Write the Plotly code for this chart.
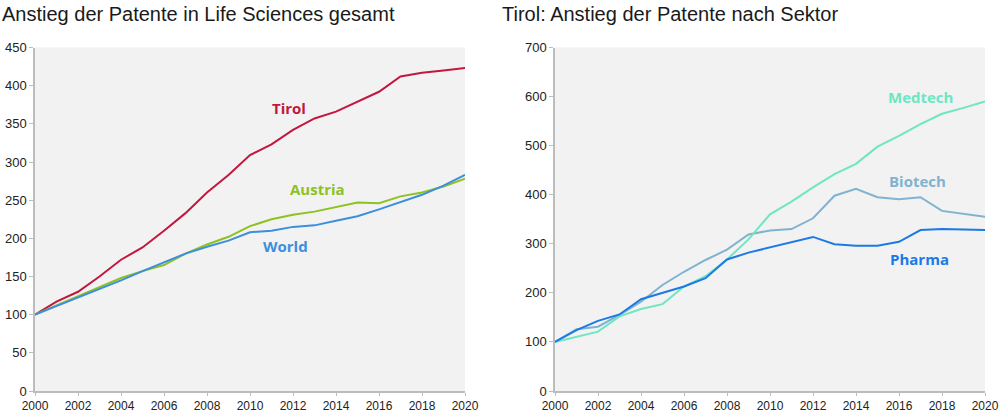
import plotly.graph_objects as go

years = list(range(2000, 2021))

tirol = [100, 117, 130, 150, 172, 188, 210, 233, 260, 283, 309, 323, 342, 357, 366, 379, 392, 412, 417, 420, 423]
austria = [100, 112, 124, 135, 148, 157, 165, 180, 192, 202, 216, 225, 231, 235, 241, 247, 246, 255, 260, 268, 278]
world = [100, 111, 122, 134, 145, 157, 168, 180, 189, 197, 208, 210, 215, 217, 223, 229, 238, 247, 257, 269, 283]

pharma = [100, 124, 143, 156, 187, 200, 213, 230, 268, 282, 293, 304, 314, 299, 296, 296, 304, 328, 330, 329, 328]
biotech = [100, 126, 131, 155, 182, 216, 243, 267, 288, 319, 327, 330, 352, 398, 412, 395, 391, 395, 367, 361, 355]
medtech = [100, 111, 121, 152, 167, 177, 213, 234, 268, 309, 360, 386, 415, 442, 463, 498, 520, 544, 565, 577, 590]

left_title = "Anstieg der Patente in Life Sciences gesamt"
right_title = "Tirol: Anstieg der Patente nach Sektor"

c_tirol = "#c3173f"
c_austria = "#8dc21f"
c_world = "#3b8fde"
c_pharma = "#1c7ae6"
c_biotech = "#7fb3cf"
c_medtech = "#6ee6c2"

fig = go.Figure()
for ys, col, name in [(tirol, c_tirol, "Tirol"), (austria, c_austria, "Austria"), (world, c_world, "World")]:
    fig.add_trace(go.Scatter(x=years, y=ys, mode="lines", line=dict(color=col, width=2), name=name,
                             xaxis="x", yaxis="y", showlegend=False))
for ys, col, name in [(biotech, c_biotech, "Biotech"), (medtech, c_medtech, "Medtech"), (pharma, c_pharma, "Pharma")]:
    fig.add_trace(go.Scatter(x=years, y=ys, mode="lines", line=dict(color=col, width=2), name=name,
                             xaxis="x2", yaxis="y2", showlegend=False))

font_family = "Liberation Sans, Arial, sans-serif"
ydom = [21 / 412, 364.5 / 412]
axis_common = dict(showgrid=False, zeroline=False, showline=True, linecolor="#bcbcbc", linewidth=1.5,
                   ticks="outside", tickcolor="#bcbcbc", tickwidth=1, automargin=False)
yfont = dict(family=font_family, size=13, color="#222222")
xfont = dict(family=font_family, size=12, color="#222222")

fig.update_layout(
    width=1000, height=412,
    margin=dict(l=0, r=0, t=0, b=0, autoexpand=False),
    paper_bgcolor="white", plot_bgcolor="#f2f2f2",
    xaxis=dict(domain=[35 / 1000, 465 / 1000], range=[2000, 2020], tick0=2000, dtick=2, anchor="y",
               ticklen=3, tickfont=xfont, **axis_common),
    yaxis=dict(domain=ydom, range=[0, 450], dtick=50, anchor="x", ticklen=4, tickfont=yfont, **axis_common),
    xaxis2=dict(domain=[555 / 1000, 985 / 1000], range=[2000, 2020], tick0=2000, dtick=2, anchor="y2",
                ticklen=3, tickfont=xfont, **axis_common),
    yaxis2=dict(domain=ydom, range=[0, 700], dtick=100, anchor="x2", ticklen=4, tickfont=yfont, **axis_common),
)

lbl_font = "Open Sans, Liberation Sans, sans-serif"
annos = [
    dict(text=left_title, x=0, y=412 - 14, xanchor="left", size=20, color="#1a1a1a", bold=False),
    dict(text=right_title, x=500, y=412 - 14, xanchor="left", size=20, color="#1a1a1a", bold=False),
    dict(text="Tirol", x=289, y=412 - 108, xanchor="center", size=15, color=c_tirol, bold=True),
    dict(text="Austria", x=317, y=412 - 189, xanchor="center", size=15, color=c_austria, bold=True),
    dict(text="World", x=285, y=412 - 246, xanchor="center", size=15, color=c_world, bold=True),
    dict(text="Medtech", x=920, y=412 - 97, xanchor="center", size=15, color=c_medtech, bold=True),
    dict(text="Biotech", x=917, y=412 - 181, xanchor="center", size=15, color=c_biotech, bold=True),
    dict(text="Pharma", x=919, y=412 - 259, xanchor="center", size=15, color=c_pharma, bold=True),
]
for a in annos:
    t = "<b>%s</b>" % a["text"] if a["bold"] else a["text"]
    fig.add_annotation(text=t, x=a["x"] / 1000, y=a["y"] / 412, xref="paper", yref="paper",
                       xanchor=a["xanchor"], yanchor="middle", showarrow=False,
                       font=dict(family=lbl_font if a["bold"] else font_family, size=a["size"], color=a["color"]))

fig.write_html("out.html")
